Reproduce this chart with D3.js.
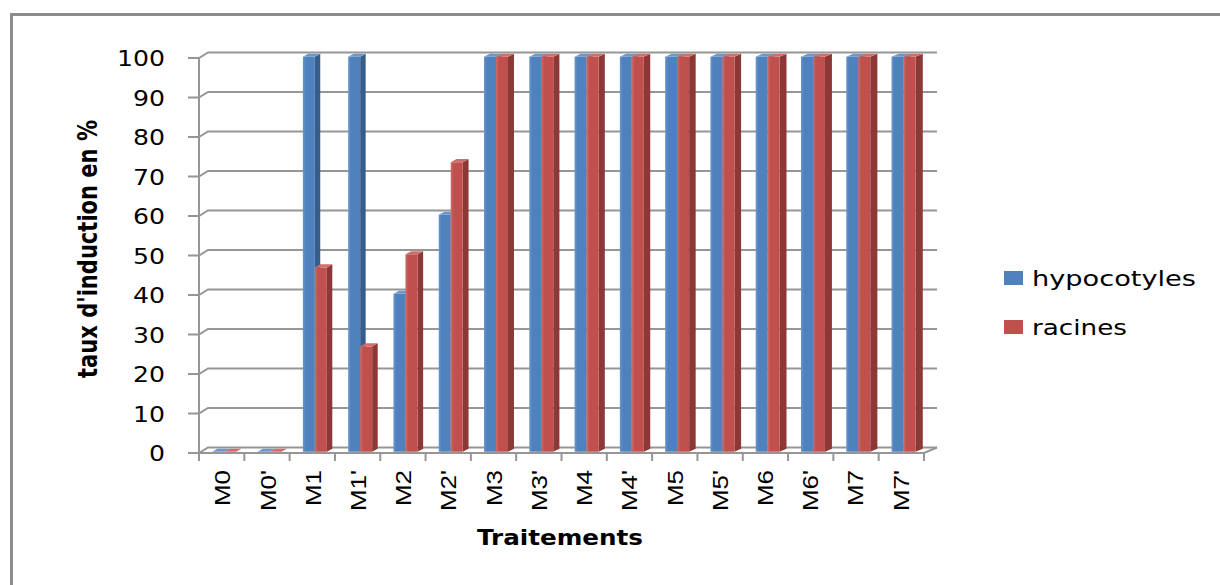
<!DOCTYPE html>
<html>
<head>
<meta charset="utf-8">
<script src="https://cdn.jsdelivr.net/npm/d3@7"></script>
<style>
  html, body { margin: 0; padding: 0; background: #fff; }
  svg { display: block; }
  text { font-family: "DejaVu Sans", sans-serif; fill: #000; }
</style>
</head>
<body>
<svg id="chart" width="1220" height="585"></svg>
<script>
// data
var categories = ["M0", "M0'", "M1", "M1'", "M2", "M2'", "M3", "M3'", "M4", "M4'", "M5", "M5'", "M6", "M6'", "M7", "M7'"];
var hypocotyles = [0, 0, 100, 100, 40, 60, 100, 100, 100, 100, 100, 100, 100, 100, 100, 100];
var racines = [0, 0, 46.67, 26.67, 50, 73.33, 100, 100, 100, 100, 100, 100, 100, 100, 100, 100];
var seriesNames = ["hypocotyles", "racines"];
var yTicks = [0, 10, 20, 30, 40, 50, 60, 70, 80, 90, 100];

var colors = {
    hypocotyles: { front: "#4F81BD", light: "#6a96cc", side: "#385d8a", top: "#6d97c9" },
    racines: { front: "#C0504D", light: "#cd6c69", side: "#8c3836", top: "#cf6e6b" }
};

var svg = d3.select("#chart");
var defs = svg.append("defs");
seriesNames.forEach(function (s) {
    var g = defs.append("linearGradient").attr("id", "grad-" + s).attr("x1", 0).attr("x2", 1).attr("y1", 0).attr("y2", 0);
    g.append("stop").attr("offset", "0%").attr("stop-color", colors[s].light);
    g.append("stop").attr("offset", "25%").attr("stop-color", colors[s].front);
    g.append("stop").attr("offset", "100%").attr("stop-color", colors[s].front);
});

// outer frame (only left and top edges fall inside the picture)
svg.append("path")
    .attr("d", "M11.5,585 L11.5,14.5 L1220,14.5")
    .attr("fill", "none").attr("stroke", "#8c8c8c").attr("stroke-width", 3);

// front plane scales
var x0 = 199, x1 = 924;
var y = d3.scaleLinear().domain([0, 100]).range([453, 58]);
var x = d3.scaleBand().domain(categories).range([x0, x1]).paddingInner(0.47).paddingOuter(0.25);
var xs = d3.scaleBand().domain(seriesNames).range([0, x.bandwidth()]);
var step = (x1 - x0) / categories.length;

// depth: back wall offset (slight perspective left->right)
var DY = -5.5;
function dx(xf) { return 9 + (xf - x0) / (x1 - x0) * 4; }
function P(xf, v, z) { return [xf + z * dx(xf), y(v) + z * DY]; }

var grid = svg.append("g").attr("stroke", "#969696").attr("stroke-width", 2).attr("fill", "none");

// back wall gridlines + left wall diagonals + y ticks
yTicks.forEach(function (t) {
    var a = P(x0, t, 0), b = P(x0, t, 1), c = P(x1, t, 1);
    grid.append("path").attr("d", "M" + (x0 - 11) + "," + a[1] + "L" + a + "L" + b + "L" + c);
});
// y axis line
grid.append("line").attr("x1", x0).attr("x2", x0).attr("y1", y(100)).attr("y2", y(0));
// floor
var f1 = P(x1, 0, 0), f2 = P(x1, 0, 1);
grid.append("path").attr("d", "M" + x0 + "," + y(0) + "L" + f1 + "L" + f2);
// category ticks
d3.range(categories.length + 1).forEach(function (i) {
    var xt = x0 + i * step;
    grid.append("line").attr("x1", xt).attr("x2", xt).attr("y1", y(0)).attr("y2", y(0) + 8);
});

// y tick labels
svg.append("g").selectAll("text").data(yTicks).join("text")
    .attr("x", 165).attr("y", function (d) { return y(d) + 8; })
    .attr("text-anchor", "end").attr("font-size", 21)
    .attr("textLength", function (d) { return String(d).length * 16; })
    .attr("lengthAdjust", "spacingAndGlyphs")
    .text(function (d) { return d; });

// bars (3D columns)
var zA = 0.22, zB = 0.78;
function poly(pts) { return "M" + pts.map(function (p) { return p.join(","); }).join("L") + "Z"; }
var bars = svg.append("g");
categories.forEach(function (cat, i) {
    [hypocotyles, racines].forEach(function (vals, k) {
        var s = seriesNames[k], v = vals[i];
        var xl = x(cat) + xs(s), xr = xl + xs.bandwidth();
        var fl = P(xl, v, zA), fr = P(xr, v, zA), fr0 = P(xr, 0, zA), fl0 = P(xl, 0, zA);
        var bl = P(xl, v, zB), br = P(xr, v, zB), br0 = P(xr, 0, zB);
        // side
        bars.append("path").attr("d", poly([fr, br, br0, fr0])).attr("fill", colors[s].side);
        // front
        if (v > 0) {
            bars.append("path").attr("d", poly([fl, fr, fr0, fl0])).attr("fill", "url(#grad-" + s + ")");
        }
        // top
        bars.append("path").attr("d", poly([fl, fr, br, bl])).attr("fill", colors[s].top);
    });
});

// category labels (rotated)
svg.append("g").selectAll("text").data(categories).join("text")
    .attr("transform", function (d) {
        return "translate(" + (x(d) + x.bandwidth() / 2 + 8) + ",470) rotate(-90) scale(1.18,1)";
    })
    .attr("text-anchor", "end").attr("font-size", 22)
    .style("font-family", "'Liberation Sans', Arial, sans-serif")
    .text(function (d) { return d; });

// axis titles
svg.append("text")
    .attr("x", 560).attr("y", 545).attr("text-anchor", "middle")
    .attr("font-size", 21).attr("font-weight", "bold")
    .attr("textLength", 166).attr("lengthAdjust", "spacingAndGlyphs")
    .text("Traitements");

svg.append("text")
    .attr("transform", "translate(97,249) rotate(-90)")
    .attr("text-anchor", "middle")
    .attr("font-size", 26).attr("font-weight", "bold")
    .attr("textLength", 258).attr("lengthAdjust", "spacingAndGlyphs")
    .text("taux d'induction en %");

// legend
var legend = svg.append("g");
seriesNames.forEach(function (s, k) {
    var ly = 271 + k * 49;
    legend.append("rect").attr("x", 1004).attr("y", ly).attr("width", 19).attr("height", 14).attr("fill", colors[s].front);
    legend.append("text").attr("x", 1032).attr("y", ly + 15)
        .attr("font-size", 21)
        .attr("textLength", k === 0 ? 164 : 95).attr("lengthAdjust", "spacingAndGlyphs")
        .text(s);
});
</script>
</body>
</html>
